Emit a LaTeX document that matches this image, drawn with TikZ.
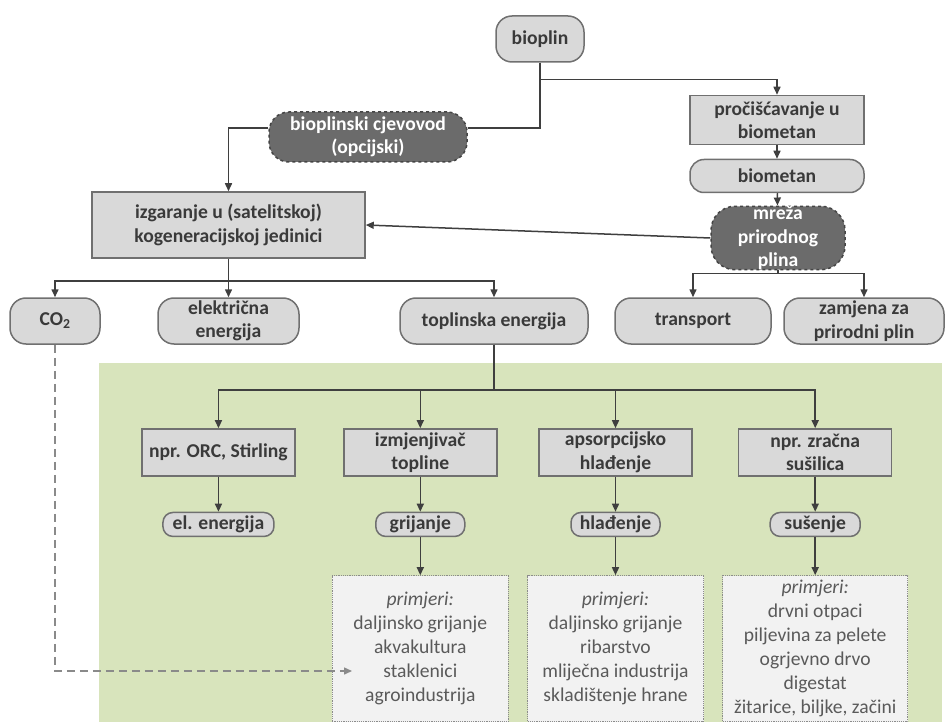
\documentclass[tikz,border=0pt]{standalone}
\usepackage{fontspec}
\setmainfont{Carlito}
\usetikzlibrary{arrows.meta}
\definecolor{zelena}{HTML}{D8E4BC}
\definecolor{svsiva}{HTML}{D9D9D9}
\definecolor{rub}{HTML}{707070}
\definecolor{tekst}{HTML}{3A3A3A}
\definecolor{tamsiva}{HTML}{6B6B6B}
\definecolor{tamrub}{HTML}{454545}
\definecolor{linija}{HTML}{3F3F3F}
\definecolor{primpozadina}{HTML}{F2F2F2}
\definecolor{primrub}{HTML}{8C8C8C}
\definecolor{primtekst}{HTML}{5A5A5A}
\definecolor{crtkano}{HTML}{8A8A8A}
\newcommand{\slova}{\fontsize{19.6}{23.5}\selectfont}
\begin{document}
\begin{tikzpicture}[x=1pt,y=-1pt,
		kutija/.style={draw=rub,fill=svsiva,line width=1.5pt,text=tekst,font=\slova\bfseries,align=center,inner sep=0pt,minimum height=47pt},
		kapsula/.style={kutija,rounded corners=16pt,minimum height=46pt},
		mala/.style={kutija,rounded corners=10pt,minimum height=24pt},
		tamnakutija/.style={kutija,draw=tamrub,fill=tamsiva,text=white,dashed,rounded corners=20pt},
		primjer/.style={draw=primrub,fill=primpozadina,densely dotted,line width=1.2pt,text=primtekst,font={\fontsize{19.6}{24}\selectfont},align=center,inner sep=0pt,minimum width=176pt,minimum height=146pt},
		veza/.style={draw=linija,line width=1.5pt},
		strelica/.style={veza,-{Triangle[length=8pt,width=7pt]}},
		crtkana/.style={draw=crtkano,line width=1.5pt,dash pattern=on 8pt off 5pt,-{Triangle[length=8pt,width=7pt]}}]
	\useasboundingbox (0,0) rectangle (945,722);
	\fill[zelena] (99,363) rectangle (942,722);
	\node[kapsula,minimum width=88pt] (bioplin) at (540,39) {bioplin};
	\node[tamnakutija,minimum width=198pt,minimum height=50pt] (cjevovod) at (368,137) {bioplinski cjevovod\\(opcijski)};
	\node[kutija,minimum width=174pt,minimum height=49pt] (prociscavanje) at (777,120) {pročišćavanje u\\biometan};
	\node[kapsula,minimum width=174pt,minimum height=33pt,rounded corners=14pt] (biometan) at (777,176) {biometan};
	\node[tamnakutija,minimum width=134pt,minimum height=60pt,rounded corners=24pt] (mreza) at (778,238) {mreža\\prirodnog\\plina};
	\node[kutija,minimum width=273pt,minimum height=66pt] (izgaranje) at (228.5,225) {izgaranje u (satelitskoj)\\kogeneracijskoj jedinici};
	\node[kapsula,minimum width=90pt] (co2) at (55,321) {CO\textsubscript{2}};
	\node[kapsula,minimum width=141pt] (elektricna) at (228.5,321) {električna\\energija};
	\node[kapsula,minimum width=188pt] (toplinska) at (494,321) {toplinska energija};
	\node[kapsula,minimum width=156pt] (transport) at (693,321) {transport};
	\node[kapsula,minimum width=160pt] (zamjena) at (864,321) {zamjena za\\prirodni plin};
	\matrix (primjena) [ampersand replacement=\&,
		anchor=north west,
		inner sep=0pt,
		row sep=35pt,
		column sep=18pt,
		nodes={anchor=center}] at (141,428)
	{
		\node[kutija,minimum width=153pt] (orc) {npr. ORC, Stirling}; \&[18pt] \node[kutija,minimum width=153pt] (izmjenjivac) {izmjenjivač\\topline}; \& \node[kutija,minimum width=153pt] (apsorpcija) {apsorpcijsko\\hlađenje}; \& \node[kutija,minimum width=153pt] (susilica) {npr. zračna\\sušilica}; \\
		\node[mala,minimum width=111pt] (elenergija) {el. energija}; \& \node[mala,minimum width=89pt] (grijanje) {grijanje}; \& \node[mala,minimum width=89pt] (hladenje) {hlađenje}; \& \node[mala,minimum width=90pt] (susenje) {sušenje}; \\[3pt]
		\& \node[primjer] (grijprimjeri) {\textit{primjeri:}\\daljinsko grijanje\\akvakultura\\staklenici\\agroindustrija}; \& \node[primjer] (hladprimjeri) {\textit{primjeri:}\\daljinsko grijanje\\ribarstvo\\mliječna industrija\\skladištenje hrane}; \& \node[primjer,minimum width=185pt] (susprimjeri) {\textit{primjeri:}\\drvni otpaci\\piljevina za pelete\\ogrjevno drvo\\digestat\\žitarice, biljke, začini}; \\
	};
	\draw[veza] (bioplin.south) |- ([yshift=9pt]cjevovod.east);
	\draw[strelica] ([yshift=9pt]cjevovod.west) -| (izgaranje.north);
	\draw[strelica] (bioplin.south) -- ++(0,17) -| (prociscavanje.north);
	\draw[strelica] (prociscavanje) -- (biometan);
	\draw[strelica] (biometan) -- (mreza);
	\draw[strelica] (mreza.west) -- (izgaranje.east);
	\draw[strelica] (izgaranje) -- (elektricna);
	\draw[strelica] (izgaranje.south) -- ++(0,22) -| (co2.north);
	\draw[strelica] (izgaranje.south) -- ++(0,22) -| (toplinska.north);
	\draw[strelica] (mreza.south) -- ++(0,3) -| (transport.north);
	\draw[strelica] (mreza.south) -- ++(0,3) -| (zamjena.north);
	\draw[strelica] (toplinska.south) -- ++(0,45) -| (orc.north);
	\draw[strelica] (toplinska.south) -- ++(0,45) -| (izmjenjivac.north);
	\draw[strelica] (toplinska.south) -- ++(0,45) -| (apsorpcija.north);
	\draw[strelica] (toplinska.south) -- ++(0,45) -| (susilica.north);
	\draw[strelica] (orc) -- (elenergija);
	\draw[strelica] (izmjenjivac) -- (grijanje);
	\draw[strelica] (apsorpcija) -- (hladenje);
	\draw[strelica] (susilica) -- (susenje);
	\draw[strelica] (grijanje) -- (grijprimjeri);
	\draw[strelica] (hladenje) -- (hladprimjeri);
	\draw[strelica] (susenje) -- (susprimjeri);
	\coordinate (co2kraj) at (352,671);
	\draw[crtkana] (co2.south) |- (co2kraj);
\end{tikzpicture}
\end{document}
